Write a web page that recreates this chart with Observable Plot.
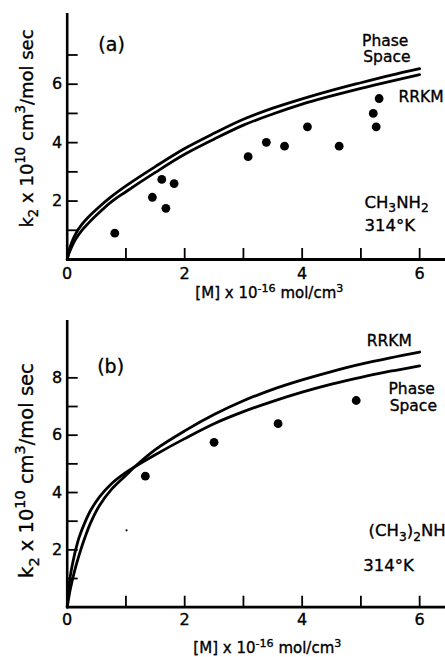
<!DOCTYPE html>
<html><head><meta charset="utf-8">
<script src="https://cdn.jsdelivr.net/npm/d3@7"></script>
<script src="https://cdn.jsdelivr.net/npm/@observablehq/plot@0.6"></script>
<style>html,body{margin:0;padding:0;background:#fff;} #chart svg{display:block;} #chart svg text{stroke:#000;stroke-width:0.35px;}</style>
</head><body><div id="chart"></div>
<script>
// ---------- shared ----------
const xMinorTicks = [1, 2, 3, 4, 5, 6];
const xLabelTicks = [0, 2, 4, 6];
const xTitle = "[M] x 10⁻¹⁶ mol/cm³";
const yTitle = "k₂ x 10¹⁰ cm³/mol sec";

// ---------- panel (a): CH3NH2, 314 K ----------
const aDotsX = [0.81, 1.45, 1.61, 1.68, 1.82, 3.08, 3.39, 3.70, 4.09, 4.63, 5.21, 5.26, 5.31];
const aDotsY = [0.90, 2.13, 2.74, 1.75, 2.60, 3.52, 4.01, 3.88, 4.54, 3.88, 5.00, 4.54, 5.51];
const aCurveX = [0, 0.03, 0.08, 0.15, 0.25, 0.35, 0.5, 0.75, 1, 1.5, 2, 2.5, 3, 3.5, 4, 4.5, 5, 5.5, 6];
const aPhaseY = [0, 0.3, 0.6, 0.9, 1.2, 1.43, 1.72, 2.15, 2.52, 3.18, 3.8, 4.32, 4.8, 5.18, 5.5, 5.79, 6.05, 6.3, 6.53];
const aRrkmY  = [0, 0.2, 0.45, 0.72, 1.0, 1.22, 1.52, 1.97, 2.32, 2.98, 3.6, 4.12, 4.6, 4.98, 5.32, 5.6, 5.86, 6.1, 6.33];
const aYTicks = [1, 2, 3, 4, 5, 6, 7];
const aYLabels = [2, 4, 6];
const aCurveLabel = ["Phase", "Space", "RRKM"];
const aCurveLabelX = [5.02, 5.04, 5.64];
const aCurveLabelY = [7.48, 6.92, 5.56];
const aCondLabel = ["CH₃NH₂", "314°K"];
const aCondLabelX = [5.06, 5.06];
const aCondLabelY = [1.96, 1.16];
const aTag = {text: "(a)", x: 0.53, y: 7.33};

// ---------- panel (b): (CH3)2NH, 314 K ----------
const bDotsX = [1.33, 2.50, 3.59, 4.92];
const bDotsY = [4.57, 5.75, 6.40, 7.21];
const bSpeckX = [1.01];
const bSpeckY = [2.68];
const bCurveX = [0, 0.02, 0.05, 0.1, 0.15, 0.2, 0.3, 0.4, 0.55, 0.75, 1, 1.15, 1.5, 2, 2.5, 3, 3.5, 4, 4.5, 5, 5.5, 6];
const bPhaseY = [0, 0.55, 1.05, 1.6, 2.05, 2.42, 2.95, 3.38, 3.85, 4.3, 4.7, 4.9, 5.32, 5.88, 6.4, 6.82, 7.18, 7.5, 7.78, 8.02, 8.23, 8.42];
const bRrkmY  = [0, 0.25, 0.6, 1.05, 1.45, 1.8, 2.42, 2.95, 3.55, 4.1, 4.6, 4.9, 5.5, 6.15, 6.72, 7.2, 7.6, 7.93, 8.22, 8.48, 8.7, 8.9];
const bYTicks = [1, 2, 3, 4, 5, 6, 7, 8];
const bYLabels = [2, 4, 6, 8];
const bCurveLabel = ["RRKM", "Phase", "Space"];
const bCurveLabelX = [5.10, 5.47, 5.49];
const bCurveLabelY = [9.30, 7.60, 7.02];
const bCondLabel = ["(CH₃)₂NH", "314°K"];
const bCondLabelX = [5.13, 5.04];
const bCondLabelY = [2.68, 1.46];
const bTag = {text: "(b)", x: 0.51, y: 8.37};

const FONT = "DejaVu Sans";

function panel(o) {
  const dots = o.dotsX.map((x, i) => ({x, y: o.dotsY[i]}));
  const phase = o.curveX.map((x, i) => ({x, y: o.phaseY[i]}));
  const rrkm = o.curveX.map((x, i) => ({x, y: o.rrkmY[i]}));
  const curveLabels = o.curveLabel.map((t, i) => ({t, x: o.curveLabelX[i], y: o.curveLabelY[i]}));
  const condLabels = o.condLabel.map((t, i) => ({t, x: o.condLabelX[i], y: o.condLabelY[i]}));
  const specks = (o.speckX || []).map((x, i) => ({x, y: o.speckY[i]}));
  return Plot.plot({
    width: 445, height: o.height,
    marginLeft: 66.7, marginRight: 0, marginTop: o.mt, marginBottom: o.mb,
    style: {fontFamily: FONT, fontSize: "16px", color: "#000", background: "#fff"},
    x: {domain: [0, 6.44]},
    y: {domain: [0, o.ymax]},
    marks: [
      Plot.ruleY([0], {strokeWidth: 2.8}),
      Plot.ruleX([0], {strokeWidth: 2.6}),
      Plot.axisX(xMinorTicks, {tickSize: -11, tickFormat: () => "", label: null, strokeWidth: 1.8}),
      Plot.axisX(xLabelTicks, {tickSize: 0, tickPadding: o.xpad, label: null, fontSize: 16}),
      Plot.axisY(o.yTicks, {tickSize: -11, tickFormat: () => "", label: null, strokeWidth: 1.8}),
      Plot.axisY(o.yLabels, {tickSize: 0, tickPadding: 5, label: null, fontSize: 16}),
      Plot.line(phase, {x: "x", y: "y", curve: "catmull-rom", strokeWidth: 2.8, stroke: "#000"}),
      Plot.line(rrkm, {x: "x", y: "y", curve: "catmull-rom", strokeWidth: 2.8, stroke: "#000"}),
      Plot.dot(dots, {x: "x", y: "y", r: 4.4, fill: "#000", stroke: null}),
      Plot.dot(specks, {x: "x", y: "y", r: 1.1, fill: "#000", stroke: null}),
      Plot.text(curveLabels, {x: "x", y: "y", text: "t", textAnchor: "start", fontSize: 15.5, fill: "#000"}),
      Plot.text(condLabels, {x: "x", y: "y", text: "t", textAnchor: "start", fontSize: 16.5, fill: "#000"}),
      Plot.text([o.tag], {x: "x", y: "y", text: "text", textAnchor: "start", fontSize: 19, fill: "#000"}),
      Plot.text([xTitle], {frameAnchor: "bottom", textAnchor: "middle", lineAnchor: "middle", dx: o.xtDx, dy: o.xtDy, fontSize: 15, fill: "#000"}),
      Plot.text([yTitle], {frameAnchor: "left", textAnchor: "middle", lineAnchor: "middle", rotate: -90, dx: -40, dy: o.ytDy, fontSize: o.ytSize, fill: "#000"})
    ]
  });
}

const SUBS = {"₀":"0","₁":"1","₂":"2","₃":"3","₄":"4","₅":"5","₆":"6","₇":"7","₈":"8","₉":"9"};
const SUPS = {"⁰":"0","¹":"1","²":"2","³":"3","⁴":"4","⁵":"5","⁶":"6","⁷":"7","⁸":"8","⁹":"9","⁻":"-"};
function richText(svg) {
  svg.querySelectorAll("text").forEach(t => {
    const chars = Array.from(t.textContent);
    if (!chars.some(c => c in SUBS || c in SUPS)) return;
    const fs = parseFloat(getComputedStyle(t).fontSize);
    const runs = [];
    for (const c of chars) {
      const type = c in SUBS ? "sub" : c in SUPS ? "sup" : "n";
      const ch = SUBS[c] ?? SUPS[c] ?? c;
      const last = runs[runs.length - 1];
      if (last && last.type === type) last.text += ch; else runs.push({type, text: ch});
    }
    while (t.firstChild) t.removeChild(t.firstChild);
    let cur = 0;
    for (const r of runs) {
      const target = r.type === "sub" ? 0.3 * fs : r.type === "sup" ? -0.42 * fs : 0;
      const ts = document.createElementNS("http://www.w3.org/2000/svg", "tspan");
      ts.setAttribute("dy", (target - cur).toFixed(2));
      if (r.type !== "n") ts.setAttribute("font-size", (0.74 * fs).toFixed(2));
      ts.textContent = r.text;
      t.appendChild(ts);
      cur = target;
    }
  });
}

const chart = document.getElementById("chart");
const svgA = panel({
  height: 310, mt: 13, mb: 51, ymax: 8.42,
  dotsX: aDotsX, dotsY: aDotsY, curveX: aCurveX, phaseY: aPhaseY, rrkmY: aRrkmY,
  yTicks: aYTicks, yLabels: aYLabels,
  curveLabel: aCurveLabel, curveLabelX: aCurveLabelX, curveLabelY: aCurveLabelY,
  condLabel: aCondLabel, condLabelX: aCondLabelX, condLabelY: aCondLabelY,
  tag: aTag, xpad: 8, xtDx: 13, xtDy: 34, ytDy: -8, ytSize: 18
});
const svgB = panel({
  height: 347, mt: 10, mb: 50.3, ymax: 10.0,
  dotsX: bDotsX, dotsY: bDotsY, speckX: bSpeckX, speckY: bSpeckY,
  curveX: bCurveX, phaseY: bPhaseY, rrkmY: bRrkmY,
  yTicks: bYTicks, yLabels: bYLabels,
  curveLabel: bCurveLabel, curveLabelX: bCurveLabelX, curveLabelY: bCurveLabelY,
  condLabel: bCondLabel, condLabelX: bCondLabelX, condLabelY: bCondLabelY,
  tag: bTag, xpad: 6, xtDx: 11, xtDy: 41, ytDy: 6.7, ytSize: 19.5
});
chart.appendChild(svgA);
chart.appendChild(svgB);
richText(svgA);
richText(svgB);
</script>
</body></html>
